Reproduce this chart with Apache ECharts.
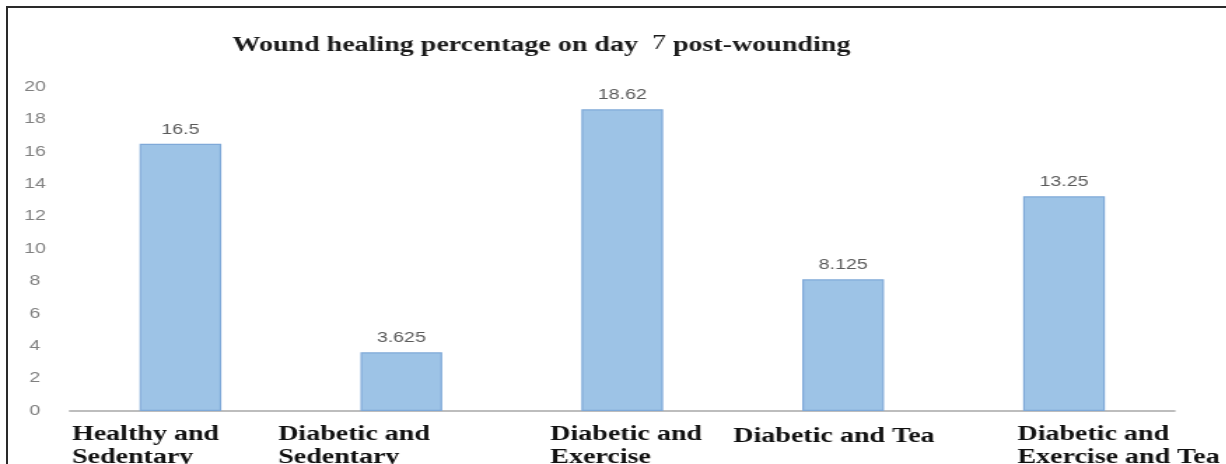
<!DOCTYPE html>
<html>
<head>
<meta charset="utf-8">
<script src="https://cdn.jsdelivr.net/npm/echarts@6/dist/echarts.min.js"></script>
<style>
  html, body { margin: 0; padding: 0; background: #fff; overflow: hidden; }
  #frame { position: absolute; left: 6px; top: 6px; width: 1240px; height: 480px;
           border-top: 2px solid #2a2a2a; border-left: 2px solid #2a2a2a; box-sizing: border-box; }
  #chart { position: absolute; left: 0; top: 0; width: 875.7px; height: 464px;
           transform: scaleX(1.4); transform-origin: 0 0; }
</style>
</head>
<body>
<div id="frame"></div>
<div id="chart"></div>
<script>
// ---- data ----
const titleBefore = 'Wound healing percentage on day';
const titleDay = '7';
const titleAfter = 'post-wounding';
const categories = [
  'Healthy and\nSedentary',
  'Diabetic and\nSedentary',
  'Diabetic and\nExercise',
  'Diabetic and Tea',
  'Diabetic and\nExercise and Tea'
];
const values = [16.5, 3.625, 18.62, 8.125, 13.25];
const yMin = 0, yMax = 20, yStep = 2;

// label block widths (left offset of each label from its tick), in chart px
const labelShift = [77.5, 88, 51.4, 78.4, 33.3];
const labelTopPad = [0, 0, 0, 4, 0];

const catFont = { fontFamily: 'Liberation Serif', fontWeight: 'bold', fontSize: 20, lineHeight: 23, color: '#111' };
const rich = {};
labelShift.forEach((w, i) => {
  rich['c' + i] = Object.assign({ width: w, align: 'left', padding: [labelTopPad[i], 0, 0, 0] }, catFont);
});

const chart = echarts.init(document.getElementById('chart'));
chart.setOption({
  animation: false,
  backgroundColor: 'transparent',
  title: {
    text: '{b|' + titleBefore + '}  {n|' + titleDay + '} {b|' + titleAfter + '}',
    left: 161,
    top: 29,
    textStyle: {
      rich: {
        b: { fontFamily: 'Liberation Serif', fontWeight: 'bold', fontSize: 20, color: '#1a1a1a' },
        n: { fontFamily: 'Liberation Serif', fontWeight: 'normal', fontSize: 20, color: '#1a1a1a', padding: [0, 0, 3, 0] }
      }
    }
  },
  grid: { left: 50, right: 37.1, top: 87, bottom: 53, containLabel: false, outerBoundsMode: 'none' },
  xAxis: {
    type: 'category',
    data: categories,
    axisLine: { lineStyle: { color: '#bdbdbd', width: 2 } },
    axisTick: { show: false },
    axisLabel: {
      interval: 0,
      margin: 12,
      align: 'right',
      verticalAlign: 'top',
      formatter: function (val, idx) {
        return val.split('\n').map(l => '{c' + idx + '|' + l + '}').join('\n');
      },
      rich: rich
    }
  },
  yAxis: {
    type: 'value',
    min: yMin, max: yMax, interval: yStep,
    axisLine: { show: false },
    axisTick: { show: false },
    splitLine: { show: false },
    axisLabel: { color: '#808080', fontFamily: 'Liberation Sans', fontSize: 14, align: 'center', margin: 25 }
  },
  series: [{
    type: 'bar',
    data: values,
    barCategoryGap: '63%',
    itemStyle: { color: '#9dc3e6', borderColor: '#7fa9d8', borderWidth: 1.2 },
    label: {
      show: true, position: 'top', distance: 7,
      color: '#5a5a5a', fontFamily: 'Liberation Sans', fontSize: 14,
      formatter: p => String(p.value)
    }
  }]
});
</script>
</body>
</html>
